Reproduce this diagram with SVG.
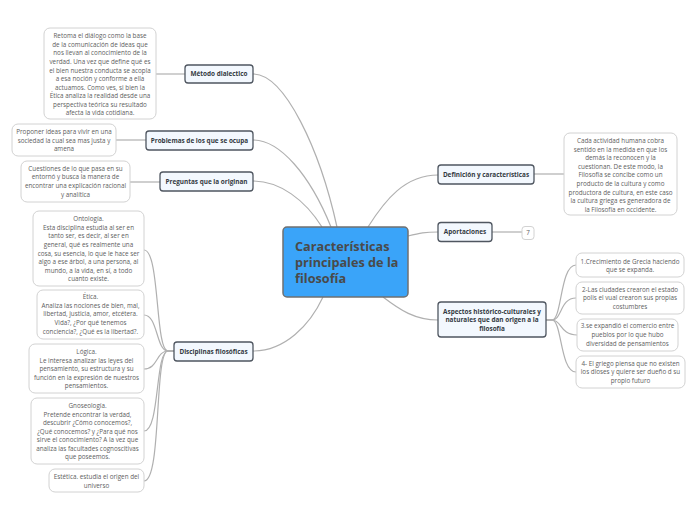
<svg xmlns="http://www.w3.org/2000/svg" width="696" height="520" viewBox="0 0 696 520">
<style>
.bg{fill:#ffffff}
.conn path,.conn line{fill:none;stroke:#b0b0b0;stroke-width:1.2}
.node rect{fill:#f3f8fe;stroke:#4f5660;stroke-width:1.3}
.node text{font-family:"Open Sans","Noto Sans","DejaVu Sans",sans-serif;font-size:6.4px;font-weight:bold;fill:#333a42;text-anchor:middle}
.leaf rect{fill:#ffffff;stroke:#d2d2d2;stroke-width:1}
.leaf text{font-family:"Open Sans","Noto Sans","DejaVu Sans",sans-serif;font-size:6.3px;fill:#5e5e5e;text-anchor:middle}
.root rect{fill:#3aa4f9;stroke:#707070;stroke-width:1.5}
.root text{font-family:"Open Sans","Noto Sans","DejaVu Sans",sans-serif;font-size:12.7px;font-weight:bold;fill:#4a4a4a}
</style>
<rect class="bg" x="0" y="0" width="696" height="520"/>
<g class="conn" id="connectors">
<path d="M337,227 C320,150 285,74 253,74"/>
<path d="M331,227 C310,175 280,140 253,140"/>
<path d="M322,227 C305,200 280,181 253,181"/>
<path d="M323,297 C310,325 285,351 253,351"/>
<path d="M368,227 C385,200 405,175 438,175"/>
<path d="M408,236 C420,233 425,232 438,232"/>
<path d="M383,297 C400,310 415,320 438,320"/>
<line x1="156" y1="74" x2="185" y2="74"/>
<line x1="116" y1="140" x2="146" y2="140"/>
<line x1="130" y1="182" x2="160" y2="182"/>
<line x1="534" y1="174" x2="564" y2="174"/>
<line x1="492" y1="232" x2="522" y2="232"/>
<path d="M174,351 L168,351 C155,351 160,250 144,250"/>
<path d="M174,351 L168,351 C156,351 158,315 144,315"/>
<path d="M174,351 L168,351 C156,351 158,369 144,369"/>
<path d="M174,351 L168,351 C155,351 160,431 144,431"/>
<path d="M174,351 L168,351 C154,351 162,481 144,481"/>
<path d="M546,320 L552,320 C562,320 560,265 576,265"/>
<path d="M546,320 L552,320 C562,320 560,298 576,298"/>
<path d="M546,320 L552,320 C562,320 560,335 577,335"/>
<path d="M546,320 L552,320 C562,320 560,372 576,372"/>
</g>
<g class="root" id="root">
<rect x="283" y="227" width="125" height="70" rx="4"/>
<text x="295" y="251">Características<tspan x="295" dy="16">principales de la</tspan><tspan x="295" dy="16">filosofía</tspan></text>
</g>
<g class="node" id="metodo">
<rect x="185" y="65" width="68" height="18" rx="3"/>
<text x="219" y="76.2">Método dialectico</text>
</g>
<g class="leaf" id="metodo-leaf">
<rect x="44" y="28" width="112" height="91" rx="6"/>
<text x="100" y="38.3">Retoma el diálogo como la base<tspan x="100" dy="8.55">de la comunicación de ideas que</tspan><tspan x="100" dy="8.55">nos llevan al conocimiento de la</tspan><tspan x="100" dy="8.55">verdad. Una vez que define qué es</tspan><tspan x="100" dy="8.55">el bien nuestra conducta se acopla</tspan><tspan x="100" dy="8.55">a esa noción y conforme a ella</tspan><tspan x="100" dy="8.55">actuamos. Como ves, si bien la</tspan><tspan x="100" dy="8.55">Ética analiza la realidad desde una</tspan><tspan x="100" dy="8.55">perspectiva teórica su resultado</tspan><tspan x="100" dy="8.55">afecta la vida cotidiana.</tspan></text>
</g>
<g class="node" id="problemas">
<rect x="146" y="131" width="107" height="19" rx="3"/>
<text x="199.5" y="142.7">Problemas de los que se ocupa</text>
</g>
<g class="leaf" id="problemas-leaf">
<rect x="12" y="124" width="104" height="32" rx="6"/>
<text x="64" y="134.4">Proponer ideas para vivir en una<tspan x="64" dy="8.4">sociedad la cual sea mas justa y</tspan><tspan x="64" dy="8.4">amena</tspan></text>
</g>
<g class="node" id="preguntas">
<rect x="160" y="172" width="93" height="19" rx="3"/>
<text x="206.5" y="183.7">Preguntas que la originan</text>
</g>
<g class="leaf" id="preguntas-leaf">
<rect x="21" y="161" width="109" height="41" rx="6"/>
<text x="75.5" y="170.5">Cuestiones de lo que pasa en su<tspan x="75.5" dy="8.7">entornó y busca la manera de</tspan><tspan x="75.5" dy="8.7">encontrar una explicación racional</tspan><tspan x="75.5" dy="8.7">y analítica</tspan></text>
</g>
<g class="node" id="disciplinas">
<rect x="174" y="342" width="79" height="19" rx="3"/>
<text x="213.5" y="353.5">Disciplinas filosóficas</text>
</g>
<g class="leaf" id="ontologia">
<rect x="33" y="211" width="111" height="75" rx="6"/>
<text x="88.5" y="221.2">Ontología.<tspan x="88.5" dy="8.6">Esta disciplina estudia al ser en</tspan><tspan x="88.5" dy="8.6">tanto ser, es decir, al ser en</tspan><tspan x="88.5" dy="8.6">general, qué es realmente una</tspan><tspan x="88.5" dy="8.6">cosa, su esencia, lo que le hace ser</tspan><tspan x="88.5" dy="8.6">algo a ese árbol, a una persona, al</tspan><tspan x="88.5" dy="8.6">mundo, a la vida, en sí, a todo</tspan><tspan x="88.5" dy="8.6">cuanto existe.</tspan></text>
</g>
<g class="leaf" id="etica">
<rect x="37" y="290" width="107" height="49" rx="6"/>
<text x="90.5" y="299">Ética.<tspan x="90.5" dy="8.7">Analiza las nociones de bien, mal,</tspan><tspan x="90.5" dy="8.7">libertad, justicia, amor, etcétera.</tspan><tspan x="90.5" dy="8.7">Vida?, ¿Por qué tenemos</tspan><tspan x="90.5" dy="8.7">conciencia?, ¿Qué es la libertad?.</tspan></text>
</g>
<g class="leaf" id="logica">
<rect x="29" y="344" width="115" height="49" rx="6"/>
<text x="86.5" y="353.9">Lógica.<tspan x="86.5" dy="8.6">Le interesa analizar las leyes del</tspan><tspan x="86.5" dy="8.6">pensamiento, su estructura y su</tspan><tspan x="86.5" dy="8.6">función en la expresión de nuestros</tspan><tspan x="86.5" dy="8.6">pensamientos.</tspan></text>
</g>
<g class="leaf" id="gnoseologia">
<rect x="31" y="398" width="113" height="66" rx="6"/>
<text x="87.5" y="408.2">Gnoseología.<tspan x="87.5" dy="8.5">Pretende encontrar la verdad,</tspan><tspan x="87.5" dy="8.5">descubrir ¿Cómo conocemos?,</tspan><tspan x="87.5" dy="8.5">¿Qué conocemos? y ¿Para qué nos</tspan><tspan x="87.5" dy="8.5">sirve el conocimiento? A la vez que</tspan><tspan x="87.5" dy="8.5">analiza las facultades cognoscitivas</tspan><tspan x="87.5" dy="8.5">que poseemos.</tspan></text>
</g>
<g class="leaf" id="estetica">
<rect x="49" y="469" width="95" height="23" rx="6"/>
<text x="96.5" y="478.9">Estética. estudia el origen del<tspan x="96.5" dy="8.8">universo</tspan></text>
</g>
<g class="node" id="definicion">
<rect x="438" y="165" width="96" height="19" rx="3"/>
<text x="486" y="176.7">Definición y características</text>
</g>
<g class="leaf" id="definicion-leaf">
<rect x="564" y="133" width="113" height="82" rx="6"/>
<text x="620.5" y="142.9">Cada actividad humana cobra<tspan x="620.5" dy="8.6">sentido en la medida en que los</tspan><tspan x="620.5" dy="8.6">demás la reconocen y la</tspan><tspan x="620.5" dy="8.6">cuestionan. De este modo, la</tspan><tspan x="620.5" dy="8.6">Filosofía se concibe como un</tspan><tspan x="620.5" dy="8.6">producto de la cultura y como</tspan><tspan x="620.5" dy="8.6">productora de cultura, en este caso</tspan><tspan x="620.5" dy="8.6">la cultura griega es generadora de</tspan><tspan x="620.5" dy="8.6">la Filosofía en occidente.</tspan></text>
</g>
<g class="node" id="aportaciones">
<rect x="438" y="222.5" width="54" height="19" rx="3"/>
<text x="465" y="234.2">Aportaciones</text>
</g>
<g class="leaf" id="aportaciones-count">
<rect x="522" y="226.5" width="12" height="13" rx="3"/>
<text x="528" y="235.3">7</text>
</g>
<g class="node" id="aspectos">
<rect x="438" y="302" width="108" height="35" rx="3"/>
<text x="492" y="313.9">Aspectos histórico-culturales y<tspan x="492" dy="8.3">naturales que dan origen a la</tspan><tspan x="492" dy="8.3">filosofía</tspan></text>
</g>
<g class="leaf" id="aspecto1">
<rect x="576" y="253" width="108" height="24" rx="6"/>
<text x="630" y="263.9">1.Crecimiento de Grecia haciendo<tspan x="630" dy="8.4">que se expanda.</tspan></text>
</g>
<g class="leaf" id="aspecto2">
<rect x="576" y="282" width="108" height="32" rx="6"/>
<text x="630" y="291.5">2-Las ciudades crearon el estado<tspan x="630" dy="8.7">polis el vual crearon sus propias</tspan><tspan x="630" dy="8.7">costumbres</tspan></text>
</g>
<g class="leaf" id="aspecto3">
<rect x="577" y="319" width="101" height="32" rx="6"/>
<text x="627.5" y="328.3">3.se expandió el comercio entre<tspan x="627.5" dy="8.8">pueblos por lo que hubo</tspan><tspan x="627.5" dy="8.8">diversidad de pensamientos</tspan></text>
</g>
<g class="leaf" id="aspecto4">
<rect x="576" y="356" width="109" height="32" rx="6"/>
<text x="630.5" y="365.5">4- El griego piensa que no existen<tspan x="630.5" dy="8.7">los dioses y quiere ser dueño d su</tspan><tspan x="630.5" dy="8.7">propio futuro</tspan></text>
</g>
</svg>
